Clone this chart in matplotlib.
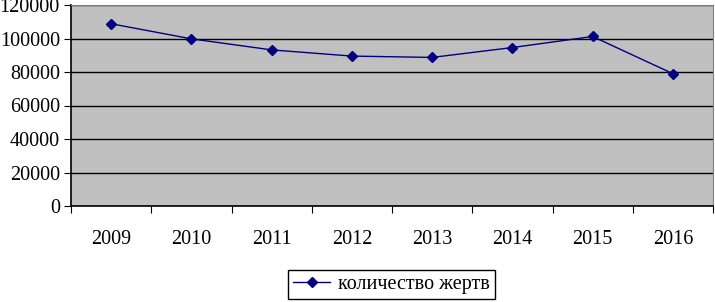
import numpy as np
import matplotlib.pyplot as plt

years = ["2009", "2010", "2011", "2012", "2013", "2014", "2015", "2016"]
victims = [108800, 99800, 93200, 89500, 88700, 94600, 101200, 79000]
yticks = [0, 20000, 40000, 60000, 80000, 100000, 120000]

plt.rcParams['font.family'] = ['Liberation Serif', 'DejaVu Serif']

fig = plt.figure(figsize=(7.15, 3.02), dpi=100)
ax = fig.add_axes([71 / 715, 96 / 302, 642 / 715, 201 / 302])

x = np.arange(len(years))
ax.plot(x, victims, color='#000080', marker='D', markersize=5, linewidth=1,
        label="количество жертв")

ax.set_facecolor('#c0c0c0')
ax.set_xlim(-0.5, len(years) - 0.5)
ax.set_ylim(0, 120000)
ax.set_yticks(yticks)
ax.set_yticklabels([str(v) for v in yticks], fontsize=14.5)
ax.grid(True, axis='y', color='black', linewidth=1)
ax.set_axisbelow(True)

# category labels centred, tick marks on boundaries
ax.set_xticks(np.arange(len(years) + 1) - 0.5)
ax.set_xticklabels([])
ax.set_xticks(x, minor=True)
ax.set_xticklabels(years, minor=True, fontsize=14.5)
ax.tick_params(axis='x', which='minor', length=0, pad=17)
ax.tick_params(axis='x', which='major', direction='out', length=5, color='black')
ax.tick_params(axis='y', direction='out', length=5, pad=3)

for s in ['top', 'right']:
    ax.spines[s].set_color('#808080')
for s in ['left', 'bottom']:
    ax.spines[s].set_color('black')
    ax.spines[s].set_linewidth(1.2)

fig.legend(loc='center', bbox_to_anchor=(391.5 / 715, 1 - 284.5 / 302),
           fontsize=14.5, frameon=True, fancybox=False, edgecolor='black',
           handlelength=1.8, handletextpad=0.4, borderpad=0.25, framealpha=1)

fig.savefig("out.png", dpi=100)
